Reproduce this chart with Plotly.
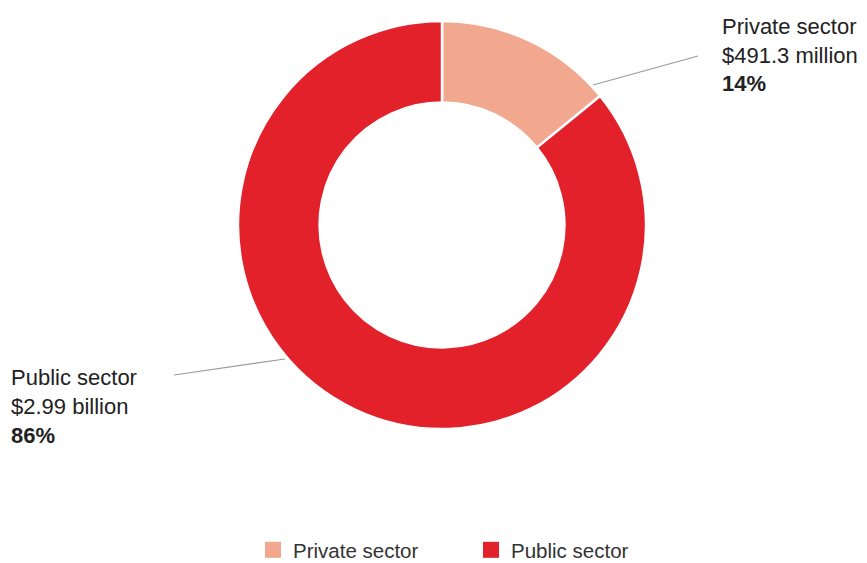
import plotly.graph_objects as go

categories = ["Private sector", "Public sector"]
values = [491.3, 2990.0]
amount_labels = ["$491.3 million", "$2.99 billion"]
pct_labels = ["14%", "86%"]
colors = ["#F1A88E", "#E3212B"]

OFF = 8  # page body margin in the browser
W, H = 867 - OFF, 563 - OFF
cx, cy, R = 442 - OFF, 225 - OFF, 204

FONT_FAMILY = "Liberation Sans, Arial, sans-serif"

fig = go.Figure()
fig.add_trace(go.Pie(
    labels=categories,
    values=values,
    hole=0.6,
    sort=False,
    direction="clockwise",
    rotation=0,
    textinfo="none",
    hoverinfo="label+value+percent",
    showlegend=False,
    marker=dict(colors=colors, line=dict(color="white", width=2.5)),
    domain=dict(x=[(cx - R) / W, (cx + R) / W], y=[1 - (cy + R) / H, 1 - (cy - R) / H]),
))

# legend entries (square swatches)
for name, col in zip(categories, colors):
    fig.add_trace(go.Scatter(
        x=[None], y=[None], mode="markers", name=name,
        marker=dict(symbol="square", size=17, color=col),
        showlegend=True, hoverinfo="skip",
    ))


def px(x):
    return (x - OFF) / W


def py(y):
    return 1 - (y - OFF) / H


font = dict(family=FONT_FAMILY, size=22, color="#222222")

annotations = [
    dict(x=px(720), y=py(26), text=categories[0]),
    dict(x=px(720), y=py(55), text=amount_labels[0]),
    dict(x=px(720), y=py(84), text="<b>" + pct_labels[0] + "</b>"),
    dict(x=px(9), y=py(377), text=categories[1]),
    dict(x=px(9), y=py(406), text=amount_labels[1]),
    dict(x=px(9), y=py(435), text="<b>" + pct_labels[1] + "</b>"),
]
for a in annotations:
    a.update(xref="paper", yref="paper", showarrow=False, font=font,
             xanchor="left", yanchor="middle")

shapes = [
    dict(type="line", xref="paper", yref="paper", x0=px(593), y0=py(85), x1=px(698), y1=py(56),
         line=dict(color="#9a9a9a", width=1.2)),
    dict(type="line", xref="paper", yref="paper", x0=px(174), y0=py(375), x1=px(285), y1=py(359),
         line=dict(color="#9a9a9a", width=1.2)),
]

fig.update_layout(
    width=W, height=H,
    margin=dict(l=0, r=0, t=0, b=0, autoexpand=False),
    paper_bgcolor="white",
    plot_bgcolor="white",
    annotations=annotations,
    shapes=shapes,
    showlegend=True,
    xaxis=dict(visible=False),
    yaxis=dict(visible=False),
    legend=dict(
        orientation="h",
        x=px(253), xanchor="left",
        y=py(550), yanchor="middle",
        font=dict(family=FONT_FAMILY, size=20.5, color="#333333"),
        entrywidth=173,
        itemsizing="trace",
        bgcolor="rgba(0,0,0,0)",
        borderwidth=0,
    ),
)

fig.write_html("out.html")
